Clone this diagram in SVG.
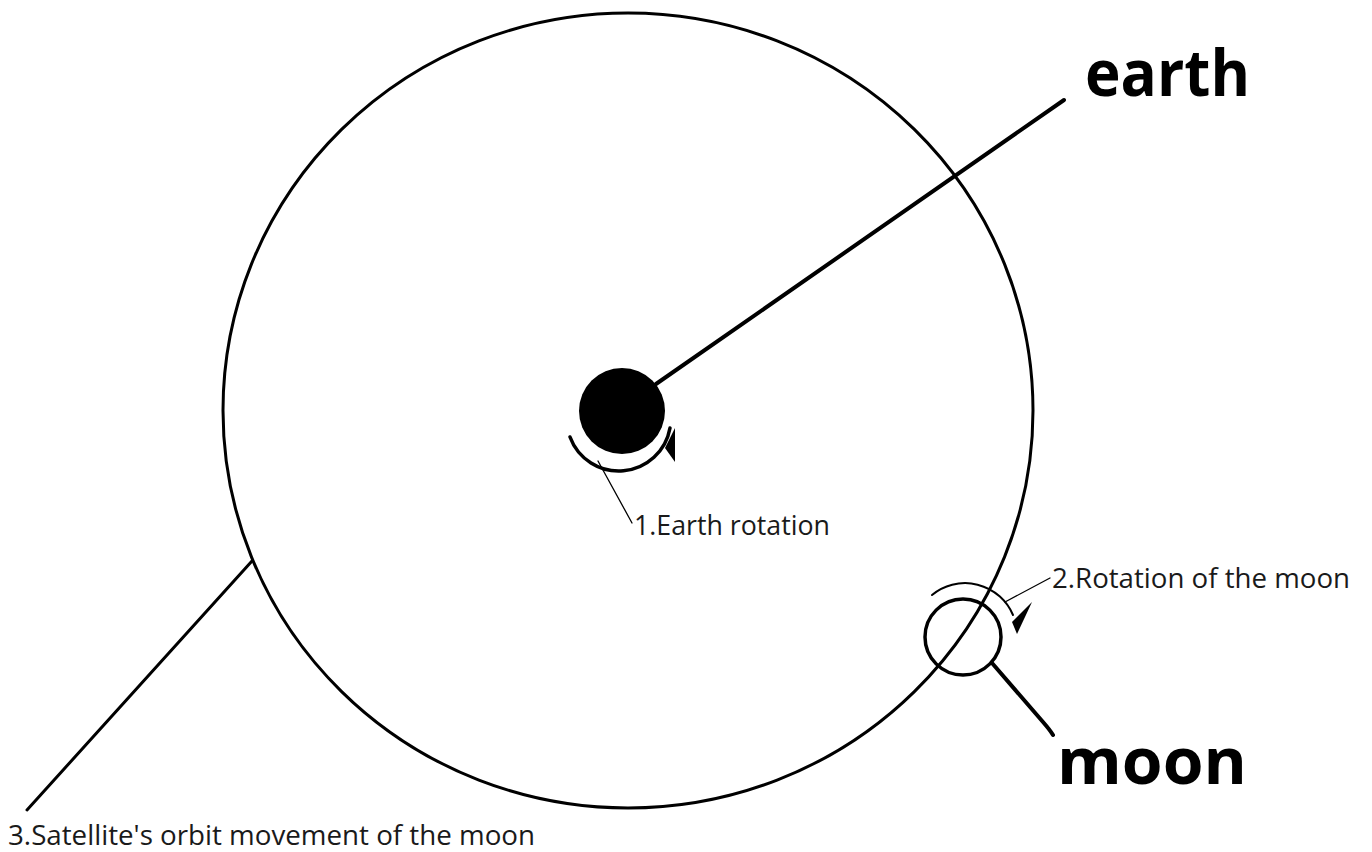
<svg xmlns="http://www.w3.org/2000/svg" width="1372" height="852" viewBox="0 0 1372 852">
<style>
.ln{fill:none;stroke:#000;stroke-linecap:round}
.lbl{font-family:"Open Sans","Noto Sans",sans-serif;font-size:28px;fill:#1a1a1a}
.big{font-family:"Open Sans","Noto Sans",sans-serif;font-weight:bold;font-size:64px;fill:#000}
</style>
<rect width="1372" height="852" fill="#fff"/>
<g id="orbit">
<ellipse cx="628" cy="410.5" rx="405" ry="397.5" class="ln" stroke-width="3"/>
</g>
<g id="earth">
<circle cx="622" cy="411" r="43" fill="#000"/>
<path class="ln" stroke-width="3.5" d="M570 437 A52 52 0 0 0 670 428"/>
<path d="M665 448 L675 428 L675 462 Z" fill="#000"/>
<text class="big" x="1085" y="96" textLength="165" lengthAdjust="spacingAndGlyphs">earth</text>
</g>
<g id="moon">
<circle cx="963" cy="637" r="38" class="ln" stroke-width="3.5"/>
<path class="ln" stroke-width="2" d="M932 595 A52 52 0 0 1 1013 615"/>
<path d="M1032 602 L1012 622 L1017 634 Z" fill="#000"/>
<text class="big" x="1057" y="784" textLength="190" lengthAdjust="spacingAndGlyphs">moon</text>
</g>
<g id="connectors">
<line class="ln" stroke-width="4" x1="656" y1="384" x2="1064" y2="100"/>
<path class="ln" stroke-width="4" d="M992 663 L1043 722 Q1050 730 1053 735"/>
<line class="ln" stroke-width="3" x1="27" y1="810" x2="252" y2="561"/>
<line class="ln" stroke-width="1.3" x1="598" y1="461" x2="632" y2="523"/>
<line class="ln" stroke-width="1.3" x1="1005" y1="602" x2="1050" y2="578"/>
</g>
<g id="labels">
<text class="lbl" x="634" y="535" textLength="196" lengthAdjust="spacingAndGlyphs">1.Earth rotation</text>
<text class="lbl" x="1052" y="588" textLength="298" lengthAdjust="spacingAndGlyphs">2.Rotation of the moon</text>
<text class="lbl" x="8" y="845" textLength="527" lengthAdjust="spacingAndGlyphs">3.Satellite's orbit movement of the moon</text>
</g>
</svg>
